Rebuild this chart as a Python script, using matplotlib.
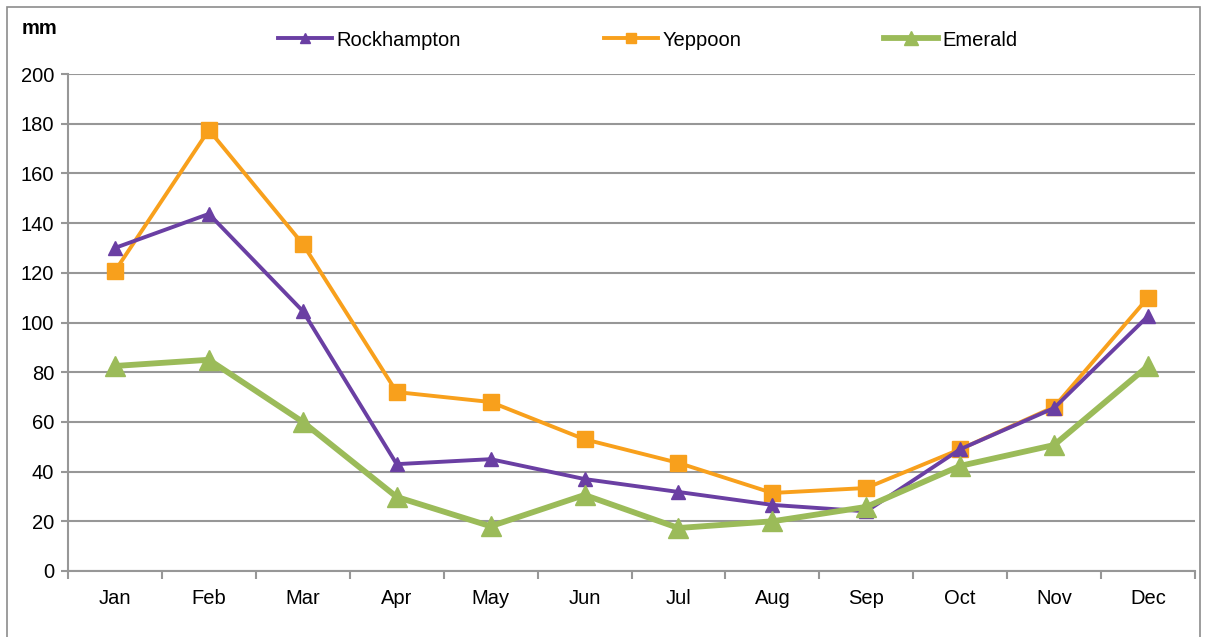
import matplotlib.pyplot as plt
from matplotlib.patches import Rectangle
import numpy as np

plt.rcParams['font.family'] = ['Liberation Sans', 'DejaVu Sans']

# Monthly rainfall (mm)
months = ['Jan', 'Feb', 'Mar', 'Apr', 'May', 'Jun', 'Jul', 'Aug', 'Sep', 'Oct', 'Nov', 'Dec']
rockhampton = [130, 143.7, 104.6, 43, 45, 37, 31.8, 26.6, 24, 49, 65.6, 102.6]
yeppoon = [120.7, 177.5, 131.6, 72, 68, 53, 43.5, 31.4, 33.4, 49, 66, 110]
emerald = [82.5, 85, 60, 29.8, 18, 30.6, 17.3, 20, 25.8, 42.3, 50.7, 82.5]
y_ticks = [0, 20, 40, 60, 80, 100, 120, 140, 160, 180, 200]

W, H = 1205, 637
fig = plt.figure(figsize=(W / 100, H / 100), dpi=100)
ax = fig.add_axes([68 / W, 1 - 571 / H, (1195 - 68) / W, (571 - 74) / H])

grid_c = '#979797'
x = np.arange(len(months))

ax.plot(x, rockhampton, color='#6a3fa3', lw=2.8, marker='^', ms=10, label='Rockhampton', zorder=4)
ax.plot(x, yeppoon, color='#f8a01c', lw=2.8, marker='s', ms=11, label='Yeppoon', zorder=3)
ax.plot(x, emerald, color='#9bbb59', lw=4.2, marker='^', ms=14.5, label='Emerald', zorder=5)

ax.set_xlim(-0.5, len(months) - 0.5)
ax.set_ylim(0, 200)
ax.set_yticks(y_ticks)
ax.set_xticks(x)
ax.set_xticklabels(months)
ax.set_xticks(np.arange(-0.5, len(months)), minor=True)

ax.yaxis.grid(True, color=grid_c, lw=1.5)
ax.set_axisbelow(True)
for side in ['top', 'right']:
    ax.spines[side].set_visible(False)
for side in ['left', 'bottom']:
    ax.spines[side].set_color(grid_c)
    ax.spines[side].set_linewidth(1.5)

ax.tick_params(axis='y', length=5, width=1.5, color=grid_c, pad=5, labelsize=14.5)
ax.tick_params(axis='x', which='major', length=0, pad=13, labelsize=14.5)
ax.tick_params(axis='x', which='minor', length=6, width=1.5, color=grid_c)

fig.text(22 / W, 1 - 28 / H, 'mm', fontsize=14.5, fontweight='bold', va='center')

fig.legend(loc='center left', bbox_to_anchor=(270 / W, 1 - 40 / H), ncol=3, frameon=False,
           fontsize=14.5, handlelength=2.7, handletextpad=0.2, columnspacing=7.1,
           markerscale=0.7, borderaxespad=0)

# outer chart frame
fig.patches.append(Rectangle((7 / W, -0.1), (1200 - 7) / W, 1.1 - 7 / H, transform=fig.transFigure,
                             fill=False, edgecolor='#8c8c8c', lw=1.2))

fig.savefig('out.png', dpi=100)
